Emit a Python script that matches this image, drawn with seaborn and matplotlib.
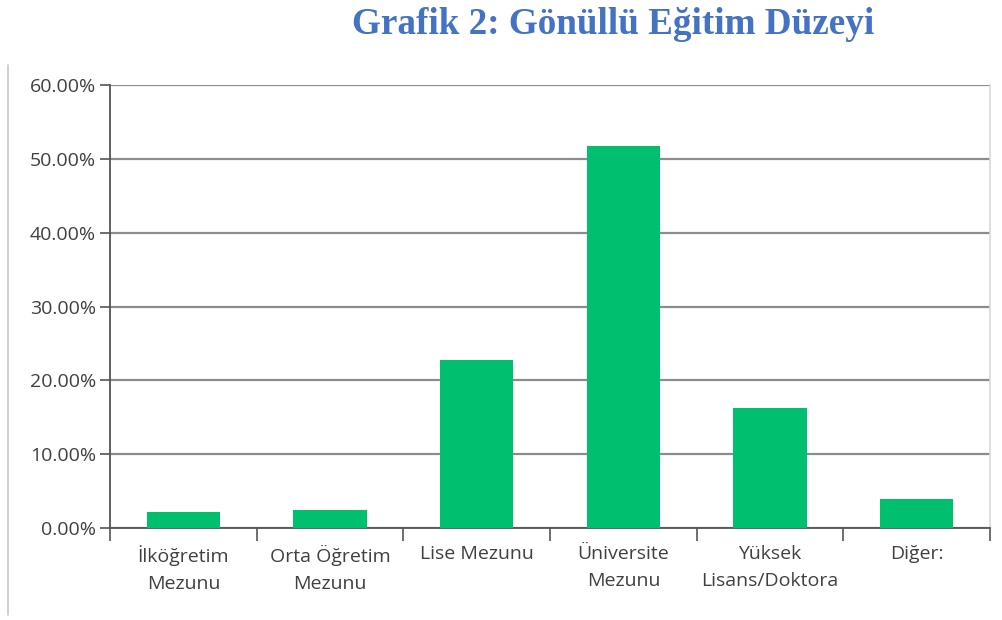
import matplotlib
matplotlib.use("Agg")
import matplotlib.pyplot as plt
import matplotlib.ticker as mticker
from matplotlib.lines import Line2D
import seaborn as sns
import pandas as pd

# ---------------------------------------------------------
# Data
# ---------------------------------------------------------
categories = ["İlköğretim\nMezunu", "Orta Öğretim\nMezunu", "Lise Mezunu",
              "Üniversite\nMezunu", "Yüksek\nLisans/Doktora", "Diğer:"]
shares = [2.2, 2.4, 22.8, 51.8, 16.3, 3.9]
y_ticks = [0, 10, 20, 30, 40, 50, 60]
title = "Grafik 2: Gönüllü Eğitim Düzeyi"

df = pd.DataFrame({"Kategori": categories, "Oran": shares})

sns.set_style("white")
plt.rcParams["font.family"] = ["Open Sans", "DejaVu Sans"]

fig = plt.figure(figsize=(10.02, 6.2), dpi=100)
ax = fig.add_axes([110 / 1002, 1 - 528 / 620, 880 / 1002, (528 - 85) / 620])

sns.barplot(data=df, x="Kategori", y="Oran", color="#00BF6F", width=0.5,
            saturation=1, linewidth=0, ax=ax, zorder=3)

ax.set_ylim(0, 60)
ax.set_xlim(-0.5, len(categories) - 0.5)
ax.set_yticks(y_ticks)
ax.yaxis.set_major_formatter(mticker.FuncFormatter(lambda v, p: f"{v:.2f}%"))
ax.yaxis.grid(True, color="#8c8c8c", lw=1.6, zorder=0)
ax.set_axisbelow(True)

# category boundary ticks on x axis
ax.set_xticks(range(len(categories)))
ax.set_xticklabels(categories, linespacing=1.7)
ax.set_xticks([i + 0.5 for i in range(-1, len(categories))], minor=True)
ax.tick_params(axis="x", which="minor", direction="out", length=9, width=1.2,
               color="#555555", bottom=True)
ax.tick_params(axis="x", which="major", length=0, pad=12, labelsize=14,
               labelcolor="#404040", bottom=True)
ax.tick_params(axis="y", direction="out", length=7, width=1.2, color="#555555",
               labelsize=14, labelcolor="#404040", left=True, pad=3)
ax.set_xlabel("")
ax.set_ylabel("")

for side in ["left", "bottom"]:
    ax.spines[side].set_color("#555555")
    ax.spines[side].set_linewidth(1.3)
ax.spines["top"].set_visible(False)
ax.spines["right"].set_color("#d9d9d9")
ax.spines["right"].set_linewidth(1.2)

# thin frame line at the far left
fig.add_artist(Line2D([8 / 1002, 8 / 1002], [1 - 615 / 620, 1 - 65 / 620],
                      color="#c8c8c8", lw=1.2, transform=fig.transFigure))

fig.text(613 / 1002, 1 - 24 / 620, title, ha="center", va="center",
         family="Liberation Serif", weight="bold", fontsize=26.7, color="#4472C4")

fig.savefig("out.png", dpi=100)
